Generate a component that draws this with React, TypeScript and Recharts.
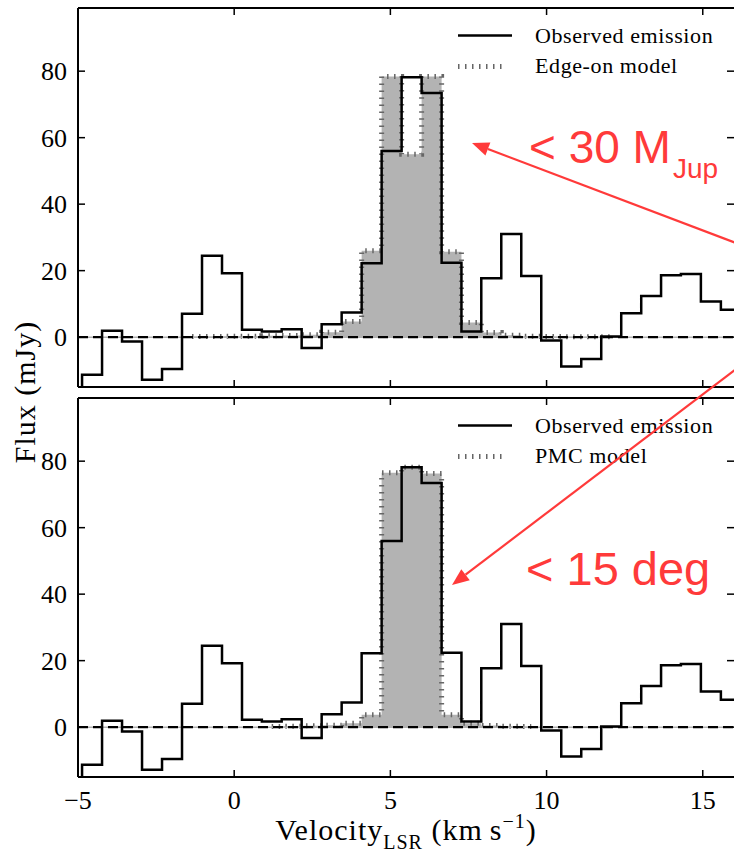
import React from "react";
import { ComposedChart, Line, Area, XAxis, YAxis, ReferenceLine, Legend, Label } from "recharts";

const SERIF = '"Liberation Serif", "DejaVu Serif", serif';
const SANS = '"Liberation Sans", Arial, sans-serif';
const RED = "#ff3a3a";

// channel centres (km/s)
const velocity = [
  -5.19, -4.55, -3.91, -3.27, -2.63, -1.99, -1.35, -0.71, -0.07, 0.57, 1.2, 1.84,
  2.48, 3.12, 3.76, 4.4, 5.04, 5.68, 6.32, 6.96, 7.59, 8.23, 8.87, 9.51, 10.15,
  10.79, 11.43, 12.07, 12.71, 13.35, 13.98, 14.62, 15.26, 15.9, 16.54,
];

// observed flux (mJy)
const observed = [
  -20, -11.3, 1.9, -1.3, -12.8, -9.6, 7.0, 24.5, 19.2, 2.2, 1.7, 2.4, -3.3, 3.9,
  7.4, 22.2, 56.0, 78.2, 73.4, 22.4, 1.7, 17.7, 31.0, 18.4, -1.0, -8.8, -6.6, 0.2,
  7.2, 12.4, 18.6, 19.0, 10.7, 8.2, 8.0,
];

const edgeOnModel = [
  null, null, null, null, null, null, 0.2, 0.2, 0.3, 0.3, 0.4, 0.5, 0.7, 1.5, 4.7,
  26.0, 78.4, 55.0, 78.4, 25.7, 4.4, 1.4, 0.6, 0.3, 0.2, 0.1, 0.1, 0.1, null, null,
  null, null, null, null, null,
];

const pmcModel = [
  null, null, null, null, null, null, null, null, null, null, 0.2, 0.3, 0.4, 0.6,
  1.2, 3.7, 76.5, 78.2, 76.3, 3.7, 1.2, 0.5, 0.3, 0.2, null, null, null, null, null,
  null, null, null, null, null, null,
];

const xTicks = [-5, 0, 5, 10, 15];
const yTicks = [0, 20, 40, 60, 80];
const X_DOMAIN: [number, number] = [-5, 16];
const Y_DOMAIN: [number, number] = [-15, 99];

const fmt = (v: number) => (v < 0 ? "\u2212" + Math.abs(v) : String(v));
const blank = () => "";

const DOTTED = { stroke: "#666", strokeWidth: 5, strokeDasharray: "1.5 5.5" };

function renderLegend(modelName: string) {
  return () => (
    <svg width={284} height={72}>
      <line x1={8} y1={19.5} x2={62} y2={19.5} stroke="#000" strokeWidth={2.5} />
      <text x={85} y={27} fontFamily={SERIF} fontSize={22} letterSpacing={0.6} fill="#000">
        Observed emission
      </text>
      <line x1={8} y1={50.5} x2={57} y2={50.5} {...DOTTED} />
      <text x={85} y={57} fontFamily={SERIF} fontSize={22} letterSpacing={0.6} fill="#000">
        {modelName}
      </text>
    </svg>
  );
}

function XTitle(props: any) {
  const vb = props.viewBox;
  return (
    <text
      x={vb.x + vb.width / 2}
      y={vb.y + 63}
      textAnchor="middle"
      fontFamily={SERIF}
      fontSize={30}
      letterSpacing={1}
      fill="#000"
    >
      Velocity
      <tspan fontSize={20} dy={9}>LSR</tspan>
      <tspan dy={-9}> (km{"\u2009"}s</tspan>
      <tspan fontSize={20} dy={-12}>{"\u22121"}</tspan>
      <tspan dy={12}>)</tspan>
    </text>
  );
}

function Panel({ model, modelName, top, bottomLabels }: any) {
  const rows = velocity.map((v, i) => ({ v, obs: observed[i], model: model[i] }));
  const height = bottomLabels ? 464 : 388;
  const axisLine = { stroke: "#000", strokeWidth: 2 };
  const tickLine = { stroke: "#000", strokeWidth: 1.5 };
  const tickFont = { fill: "#000", fontSize: 26, fontFamily: SERIF };
  return (
    <div style={{ position: "absolute", left: 0, top }}>
      <ComposedChart width={740} height={height} data={rows} margin={{ top: 7, right: 5, left: 0, bottom: 0 }}>
        <XAxis
          xAxisId="b"
          dataKey="v"
          type="number"
          domain={X_DOMAIN}
          allowDataOverflow
          ticks={xTicks}
          height={bottomLabels ? 77 : 1}
          tickSize={-7}
          tickMargin={21}
          axisLine={axisLine}
          tickLine={tickLine}
          tick={tickFont}
          tickFormatter={bottomLabels ? fmt : blank}
        >
          {bottomLabels && <Label content={XTitle} />}
        </XAxis>
        <XAxis
          xAxisId="t"
          dataKey="v"
          orientation="top"
          type="number"
          domain={X_DOMAIN}
          allowDataOverflow
          ticks={xTicks}
          height={1}
          tickSize={-7}
          axisLine={axisLine}
          tickLine={tickLine}
          tickFormatter={blank}
        />
        <YAxis
          yAxisId="l"
          type="number"
          domain={Y_DOMAIN}
          allowDataOverflow
          ticks={yTicks}
          width={78}
          tickSize={-7}
          tickMargin={18}
          axisLine={axisLine}
          tickLine={tickLine}
          tick={tickFont}
        />
        <YAxis
          yAxisId="r"
          orientation="right"
          type="number"
          domain={Y_DOMAIN}
          allowDataOverflow
          ticks={yTicks}
          width={1}
          tickSize={-7}
          axisLine={false}
          tickLine={tickLine}
          tickFormatter={blank}
        />
        <Area
          xAxisId="b"
          yAxisId="l"
          dataKey="model"
          type="step"
          baseValue={0}
          fill="#b3b3b3"
          fillOpacity={1}
          {...DOTTED}
          isAnimationActive={false}
        />
        <ReferenceLine xAxisId="b" yAxisId="l" y={0} stroke="#b0b0b0" strokeWidth={1.5} />
        <ReferenceLine xAxisId="b" yAxisId="l" y={0} stroke="#000" strokeWidth={2.2} strokeDasharray="10 5" />
        <Line
          xAxisId="b"
          yAxisId="l"
          dataKey="obs"
          type="step"
          stroke="#000"
          strokeWidth={2.5}
          dot={false}
          isAnimationActive={false}
        />
        {/* invisible copy so the top and right frame axes have a series bound */}
        <Line
          xAxisId="t"
          yAxisId="r"
          dataKey="obs"
          type="step"
          stroke="none"
          dot={false}
          activeDot={false}
          legendType="none"
          isAnimationActive={false}
        />
        <Legend
          layout="vertical"
          align="center"
          verticalAlign="middle"
          wrapperStyle={{ left: 450, top: 16, width: 284 }}
          content={renderLegend(modelName)}
        />
      </ComposedChart>
    </div>
  );
}

function Arrow({ x1, y1, x2, y2 }: any) {
  const dx = x2 - x1;
  const dy = y2 - y1;
  const len = Math.hypot(dx, dy);
  const ux = dx / len;
  const uy = dy / len;
  const hl = 17;
  const hw = 7;
  const bx = x2 - ux * hl;
  const by = y2 - uy * hl;
  const pts = `${x2},${y2} ${bx - uy * hw},${by + ux * hw} ${bx + uy * hw},${by - ux * hw}`;
  return (
    <g>
      <line x1={x1} y1={y1} x2={bx} y2={by} stroke={RED} strokeWidth={2.2} />
      <polygon points={pts} fill={RED} />
    </g>
  );
}

export default function App() {
  return (
    <div style={{ position: "absolute", left: 0, top: 0, width: 734, height: 854, overflow: "hidden", background: "#fff" }}>
      <Panel model={edgeOnModel} modelName="Edge-on model" top={0} bottomLabels={false} />
      <Panel model={pmcModel} modelName="PMC model" top={390} bottomLabels={true} />
      <svg width={734} height={854} style={{ position: "absolute", left: 0, top: 0, pointerEvents: "none" }}>
        <text
          transform="translate(35, 392) rotate(-90)"
          textAnchor="middle"
          fontFamily={SERIF}
          fontSize={30}
          letterSpacing={1}
          fill="#000"
        >
          Flux (mJy)
        </text>
        <Arrow x1={736} y1={243} x2={472} y2={143} />
        <Arrow x1={736} y1={369} x2={452} y2={585} />
        <text x={529} y={163} fontFamily={SANS} fontSize={46} fill={RED}>
          {"< 30 M"}
          <tspan fontSize={28} dy={15} dx={2}>Jup</tspan>
        </text>
        <text x={526} y={585} fontFamily={SANS} fontSize={47} fill={RED}>
          {"< 15 deg"}
        </text>
      </svg>
    </div>
  );
}
